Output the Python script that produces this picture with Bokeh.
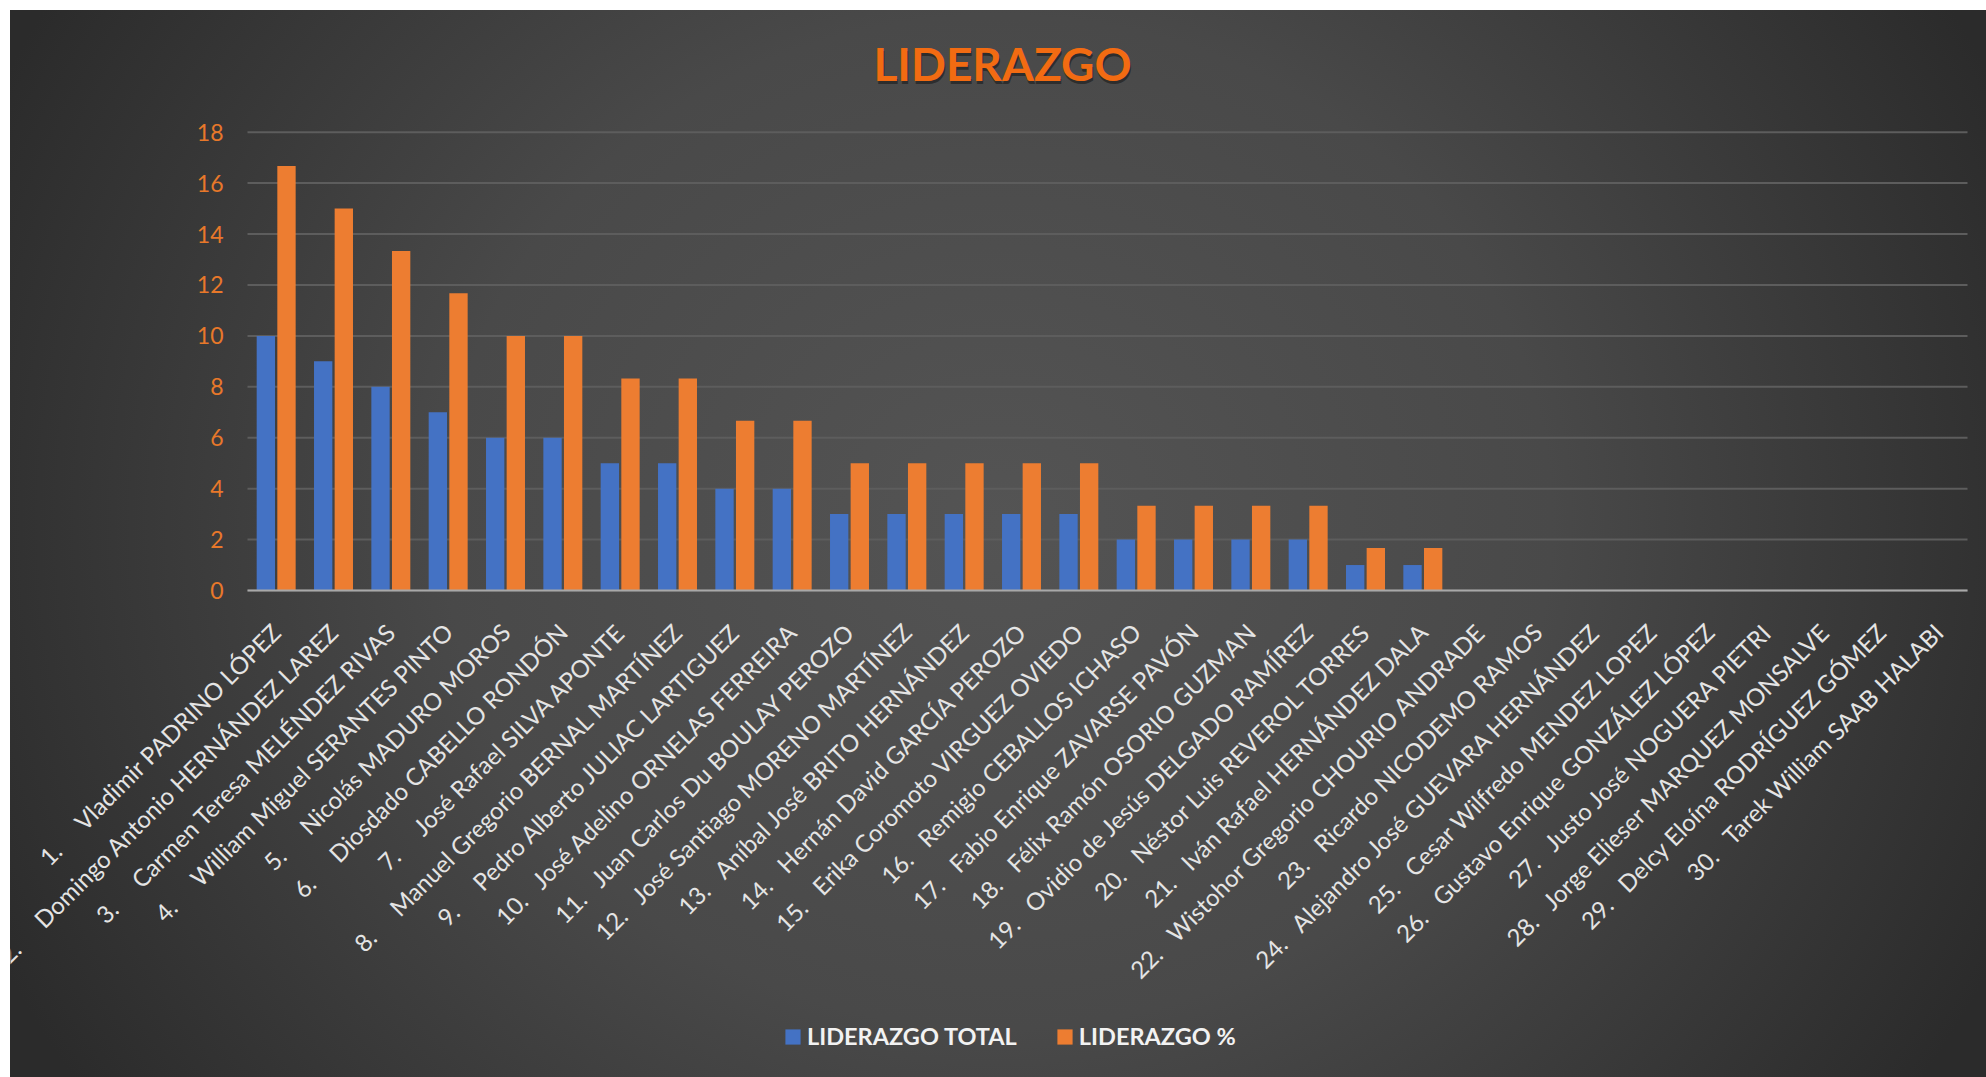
import math
from bokeh.plotting import figure
from bokeh.models import (Range1d, FixedTicker, Legend, LegendItem,
                          ColumnDataSource, Label)
from bokeh.transform import dodge
from bokeh.embed import file_html
from bokeh.resources import INLINE

# ---------------- data ----------------
ranks = list(range(1, 31))
names = [
    "Vladimir PADRINO LÓPEZ",
    "Domingo Antonio HERNÁNDEZ LAREZ",
    "Carmen Teresa MELÉNDEZ RIVAS",
    "William Miguel SERANTES PINTO",
    "Nicolás MADURO MOROS",
    "Diosdado CABELLO RONDÓN",
    "José Rafael SILVA APONTE",
    "Manuel Gregorio BERNAL MARTÍNEZ",
    "Pedro Alberto JULIAC LARTIGUEZ",
    "José Adelino ORNELAS FERREIRA",
    "Juan Carlos Du BOULAY PEROZO",
    "José Santiago MORENO MARTÍNEZ",
    "Aníbal José BRITO HERNÁNDEZ",
    "Hernán David GARCÍA PEROZO",
    "Erika Coromoto VIRGUEZ OVIEDO",
    "Remigio CEBALLOS ICHASO",
    "Fabio Enrique ZAVARSE PAVÓN",
    "Félix Ramón OSORIO GUZMAN",
    "Ovidio de Jesús DELGADO RAMÍREZ",
    "Néstor Luis REVEROL TORRES",
    "Iván Rafael HERNÁNDEZ DALA",
    "Wistohor Gregorio CHOURIO ANDRADE",
    "Ricardo NICODEMO RAMOS",
    "Alejandro José GUEVARA HERNÁNDEZ",
    "Cesar Wilfredo MENDEZ LOPEZ",
    "Gustavo Enrique GONZÁLEZ LÓPEZ",
    "Justo José NOGUERA PIETRI",
    "Jorge Elieser MARQUEZ MONSALVE",
    "Delcy Eloína RODRÍGUEZ GÓMEZ",
    "Tarek William SAAB HALABI",
]
liderazgo_total = [10, 9, 8, 7, 6, 6, 5, 5, 4, 4, 3, 3, 3, 3, 3, 2, 2, 2, 2, 1, 1,
                   0, 0, 0, 0, 0, 0, 0, 0, 0]
liderazgo_pct = [16.67, 15.0, 13.33, 11.67, 10.0, 10.0, 8.33, 8.33, 6.67, 6.67,
                 5.0, 5.0, 5.0, 5.0, 5.0, 3.33, 3.33, 3.33, 3.33, 1.67, 1.67,
                 0, 0, 0, 0, 0, 0, 0, 0, 0]
y_ticks = [0, 2, 4, 6, 8, 10, 12, 14, 16, 18]
series_names = ["LIDERAZGO TOTAL", "LIDERAZGO %"]
title_text = "LIDERAZGO"

# numbered list labels (number + tab-like gap + name)
NB = "\u00a0"
categories = [f"{r}.{NB * (5 if r < 10 else 3)}{n}" for r, n in zip(ranks, names)]
cat_index = list(range(len(categories)))  # category slots 0..29 on the x scale

src = ColumnDataSource(dict(idx=cat_index, cat=categories,
                            total=liderazgo_total, pct=liderazgo_pct))
grid_src = ColumnDataSource(dict(y=y_ticks))

# ---------------- layout geometry (pixels) ----------------
W, H = 1976, 1067
PLOT_LEFT, PLOT_RIGHT = 237.0, 1957.0     # canvas columns of the category band
Y0_PX, Y18_PX = 580.0, 121.7              # canvas rows of value 0 and value 18
px_per_cat = (PLOT_RIGHT - PLOT_LEFT) / len(categories)
px_per_unit = (Y0_PX - Y18_PX) / 18.0
x_lo = -0.5 - PLOT_LEFT / px_per_cat      # frame spans the whole canvas
x_hi = len(categories) - 0.5 + (W - PLOT_RIGHT) / px_per_cat
y_hi = 18 + Y18_PX / px_per_unit
y_lo = -(H - Y0_PX) / px_per_unit
band = (-0.5, len(categories) - 0.5)

p = figure(x_range=Range1d(x_lo, x_hi), y_range=Range1d(y_lo, y_hi), title=None,
           width=W, height=H, output_backend="svg", toolbar_location=None,
           min_border_left=0, min_border_right=0, min_border_top=0, min_border_bottom=0)
p.margin = (10, 0, 0, 10)
p.styles = {"background": "radial-gradient(ellipse 56% 95% at 50% 48%, #545454 0%, #494949 50%, #2b2b2b 100%)"}
p.background_fill_alpha = 0
p.border_fill_alpha = 0
p.outline_line_color = None

# value gridlines spanning only the category band (drawn under the bars)
p.xgrid.visible = False
p.ygrid.visible = False
p.segment(x0=band[0], x1=band[1], y0="y", y1="y", source=grid_src,
          line_color="#5d5d5d", line_width=2)

r1 = p.vbar(x=dodge("idx", -0.18), top="total", width=0.32,
            source=src, fill_color="#4472C4", line_color=None)
r2 = p.vbar(x=dodge("idx", 0.18), top="pct", width=0.32,
            source=src, fill_color="#ED7D31", line_color=None)

# y axis pinned at the left edge of the category band
p.yaxis.fixed_location = band[0]
p.yaxis.ticker = FixedTicker(ticks=y_ticks)
p.yaxis.axis_line_color = None
p.yaxis.major_tick_line_color = None
p.yaxis.minor_tick_line_color = None
p.yaxis.major_label_standoff = 18
p.yaxis.major_label_text_font = "Lato"
p.yaxis.major_label_text_font_size = "23px"
p.yaxis.major_label_text_color = "#E8782A"

# category axis pinned at value 0
p.xaxis.fixed_location = 0
p.xaxis.bounds = band
p.xaxis.ticker = FixedTicker(ticks=cat_index, minor_ticks=[])
p.xaxis.major_label_overrides = {i: c for i, c in zip(cat_index, categories)}
p.xaxis.axis_line_color = "#a8a8a8"
p.xaxis.axis_line_width = 2
p.xaxis.major_tick_line_color = None
p.xaxis.minor_tick_line_color = None
p.xaxis.major_label_orientation = math.pi / 4
p.xaxis.major_label_standoff = 31
p.xaxis.major_label_text_font = "Lato"
p.xaxis.major_label_text_font_size = "24px"
p.xaxis.major_label_text_color = "#e4e4e4"

# title (with soft shadow)
title_x = x_lo + 992 / px_per_cat
title_y = 18 + (Y18_PX - 53) / px_per_unit
shadow = Label(x=title_x, y=title_y, x_offset=1, y_offset=-3, text=title_text,
               text_font="Lato", text_font_size="46px", text_font_style="bold",
               text_color="#151515", text_alpha=0.55, text_align="center",
               text_baseline="alphabetic")
title = Label(x=title_x, y=title_y, text=title_text,
              text_font="Lato", text_font_size="46px", text_font_style="bold",
              text_color="#F26B12", text_align="center", text_baseline="alphabetic")
p.add_layout(shadow)
p.add_layout(title)

# legend
legend = Legend(items=[LegendItem(label=series_names[0], renderers=[r1]),
                       LegendItem(label=series_names[1], renderers=[r2])],
                location=(773, 27), orientation="horizontal",
                glyph_width=19, glyph_height=19, label_standoff=5, spacing=38,
                padding=0, margin=0, label_height=26,
                border_line_color=None, background_fill_alpha=0,
                label_text_font="Lato", label_text_font_size="23.5px",
                label_text_font_style="bold", label_text_color="#f2f2f2")
p.add_layout(legend, "center")

open("out.html", "w").write(file_html(p, INLINE))
